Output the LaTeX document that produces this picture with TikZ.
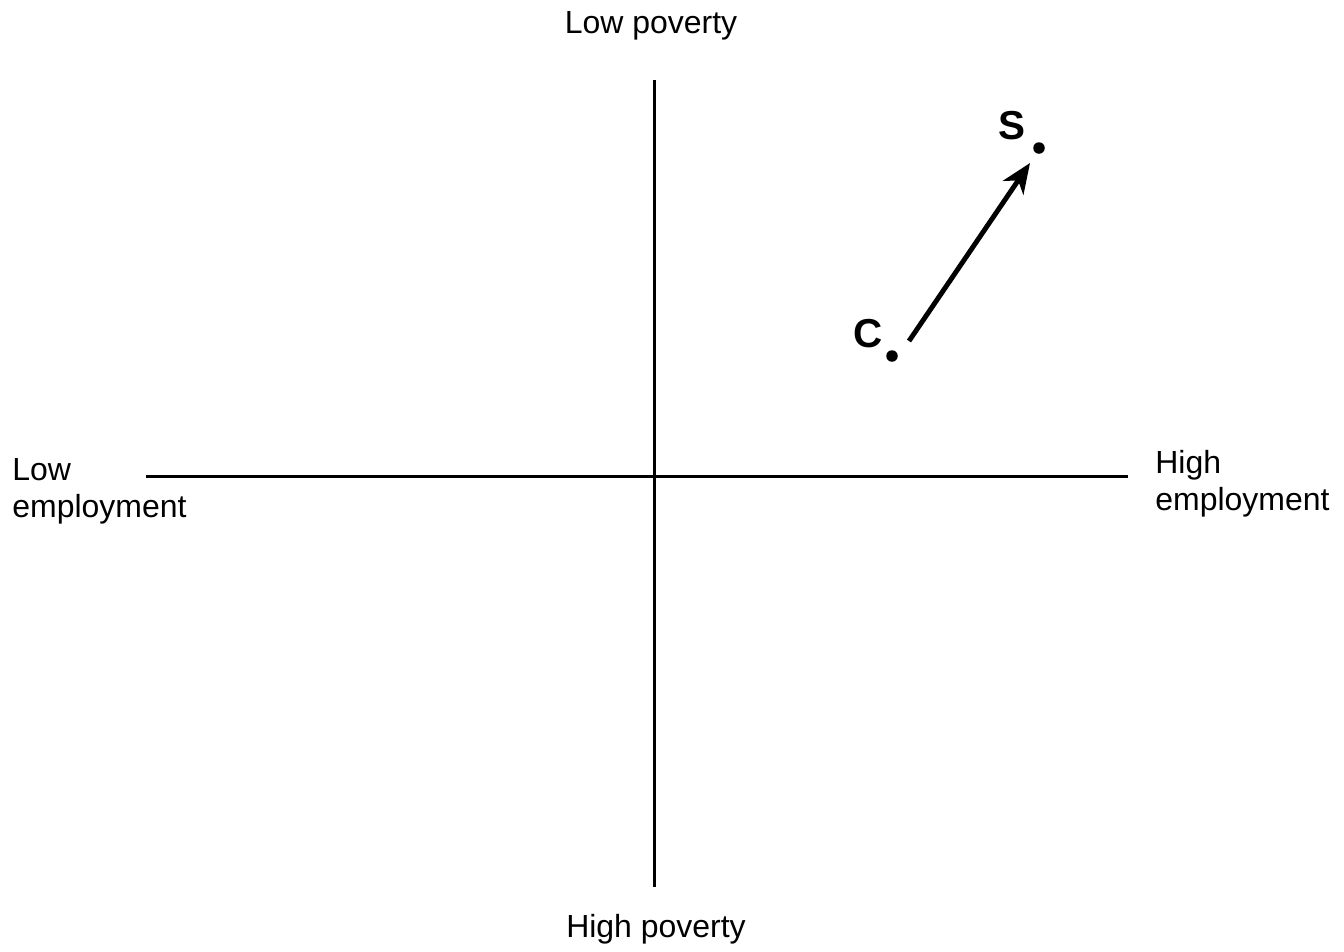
\documentclass[tikz,border=0pt]{standalone}
\usepackage{fontspec}
\setmainfont{Liberation Sans}
\usetikzlibrary{arrows.meta}
\tikzset{
  axis/.style={line width=1.7pt},
  lbl/.style={inner sep=0pt, font=\fontsize{18.2}{21}\selectfont},
  ptlabel/.style={inner sep=0pt, font=\fontsize{23}{26}\selectfont\bfseries},
  pt/.style={circle, fill=black, inner sep=0pt, minimum size=0.23cm},
  move/.style={line width=2.8pt, -{Stealth[length=17pt, width=14pt, inset=5pt]}}
}
\begin{document}
\begin{tikzpicture}[x=0.02cm, y=-0.02cm]
\useasboundingbox (0,0) rectangle (1344,951);
% axes
\coordinate (vtop) at (654,80);
\coordinate (vbot) at (654,887);
\coordinate (hleft) at (146,476);
\coordinate (hright) at (1128,476);
\draw[axis] (vtop) -- (vbot);
\draw[axis] (hleft) -- (hright);
% axis labels
\node[lbl, anchor=base] (lowpov) at (651,33) {Low poverty};
\node[lbl, anchor=base] (highpov) at (656,937) {High poverty};
\node[lbl, anchor=west, align=left] (lowemp) at (12,491) {Low\\employment};
\node[lbl, anchor=west, align=left] (highemp) at (1155,484) {High\\employment};
% points
\node[pt] (S) at (1039,148) {};
\node[pt] (C) at (892,356) {};
\node[ptlabel] (Slab) at (1012,126) {S};
\node[ptlabel] (Clab) at (868,334) {C};
\coordinate (astart) at (909,341);
\coordinate (aend) at (1030,163);
\draw[move] (astart) -- (aend);
\end{tikzpicture}
\end{document}
